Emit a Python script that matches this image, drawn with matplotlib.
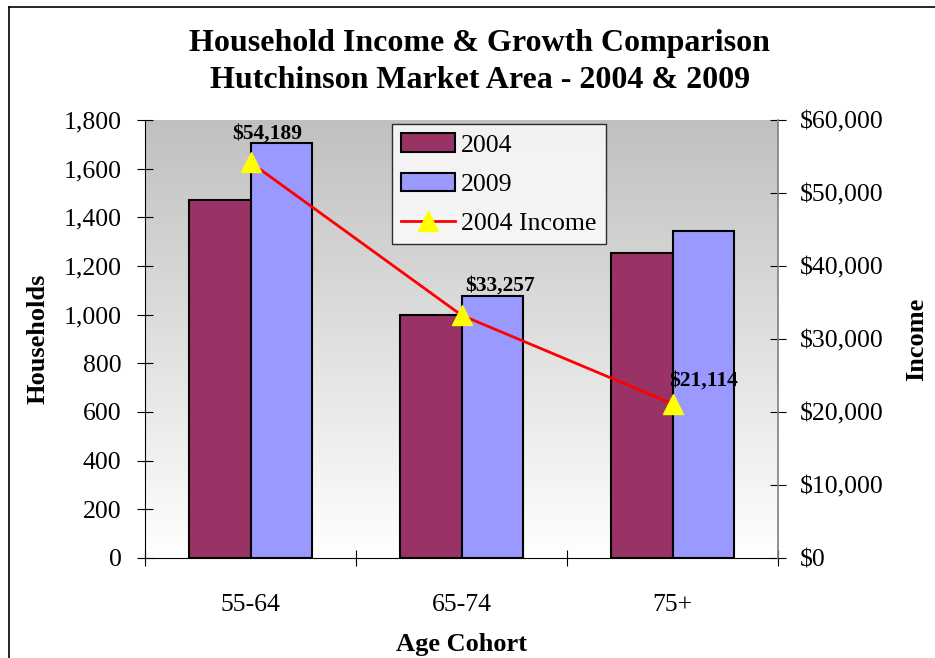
import numpy as np
import matplotlib
matplotlib.use("Agg")
import matplotlib.pyplot as plt
from matplotlib.lines import Line2D

# data
cohorts = ["55-64", "65-74", "75+"]
hh_2004 = [1470, 1000, 1253]
hh_2009 = [1707, 1078, 1345]
income_2004 = [54189, 33257, 21114]

plt.rcParams["font.family"] = ["Liberation Serif", "DejaVu Serif"]

fig = plt.figure(figsize=(9.35, 6.58), dpi=100)
ax = fig.add_axes([0.1551, 0.152, 0.677, 0.6657])
ax2 = ax.twinx()

# gradient plot area
grad = np.linspace(0, 1, 256).reshape(-1, 1)
ax.imshow(grad, cmap=matplotlib.colors.LinearSegmentedColormap.from_list("g", ["#ffffff", "#c0c0c0"]),
          extent=[0, 1, 0, 1], transform=ax.transAxes, aspect="auto", origin="lower", zorder=0)

x = np.arange(len(cohorts))
w = 0.29
b1 = ax.bar(x - w / 2, hh_2004, w, color="#993366", edgecolor="black", linewidth=1.5, label="2004", zorder=2)
b2 = ax.bar(x + w / 2, hh_2009, w, color="#9999ff", edgecolor="black", linewidth=1.5, label="2009", zorder=2)

ax.set_xlim(-0.5, 2.5)
ax.set_ylim(0, 1800)
ax.set_yticks(range(0, 1801, 200))
ax.set_yticklabels([f"{v:,}" for v in range(0, 1801, 200)])
ax.set_xticks([-0.5, 0.5, 1.5, 2.5])
ax.set_xticklabels([])
ax.set_xticks(x, minor=True)
ax.set_xticklabels(cohorts, minor=True)
ax.tick_params(axis="x", which="major", direction="inout", length=12, width=0.8)
ax.tick_params(axis="x", which="minor", length=0, pad=26, labelsize=18.5)
ax.tick_params(axis="y", direction="inout", length=12, width=0.8, labelsize=18.5, pad=11)
for s in ["top", "right"]:
    ax.spines[s].set_visible(False)
for s in ["top", "left", "bottom"]:
    ax2.spines[s].set_visible(False)
ax2.spines["right"].set_color("#808080")
ax2.spines["right"].set_linewidth(1.2)

ax2.set_ylim(0, 60000)
ax2.set_yticks(range(0, 60001, 10000))
ax2.set_yticklabels([f"${v:,}" for v in range(0, 60001, 10000)])
ax2.tick_params(axis="y", direction="inout", length=12, width=0.8, labelsize=18.5, pad=10)

ln, = ax2.plot(x, income_2004, color="red", linewidth=2, marker="^", markersize=14,
               markerfacecolor="yellow", markeredgecolor="yellow", label="2004 Income", zorder=3)
label_dx = [12, 28, 22]
label_dy = [21, 21, 17]
for xi, v, dx, dy in zip(x, income_2004, label_dx, label_dy):
    ax2.annotate(f"${v:,}", (xi, v), xytext=(dx, dy), textcoords="offset points",
                 ha="center", va="center", fontsize=15.5, fontweight="bold")

ax.set_ylabel("Households", fontsize=19, fontweight="bold", labelpad=10)
ax2.set_ylabel("Income", fontsize=19, fontweight="bold", labelpad=15)
ax.set_xlabel("Age Cohort", fontsize=19, fontweight="bold", labelpad=12)

leg = ax2.legend([b1, b2, ln], ["2004", "2009", "2004 Income"], loc="upper left",
                 bbox_to_anchor=(0.39, 0.99), fontsize=18.5, frameon=True, fancybox=False,
                 handlelength=2.1, handleheight=0.75, handletextpad=0.25, borderpad=0.35,
                 labelspacing=0.62, borderaxespad=0)
leg.get_frame().set_edgecolor("black")
leg.get_frame().set_linewidth(1)

fig.text(0.513, 0.906, "Household Income & Growth Comparison\nHutchinson Market Area - 2004 & 2009",
         ha="center", va="center", fontsize=23, fontweight="bold", linespacing=1.38)

# outer border
fig.add_artist(Line2D([9 / 935, 9 / 935], [0, 1 - 7 / 658], transform=fig.transFigure, color="black", lw=1.2))
fig.add_artist(Line2D([9 / 935, 1], [1 - 7 / 658, 1 - 7 / 658], transform=fig.transFigure, color="black", lw=1.2))

fig.savefig("out.png", dpi=100)
